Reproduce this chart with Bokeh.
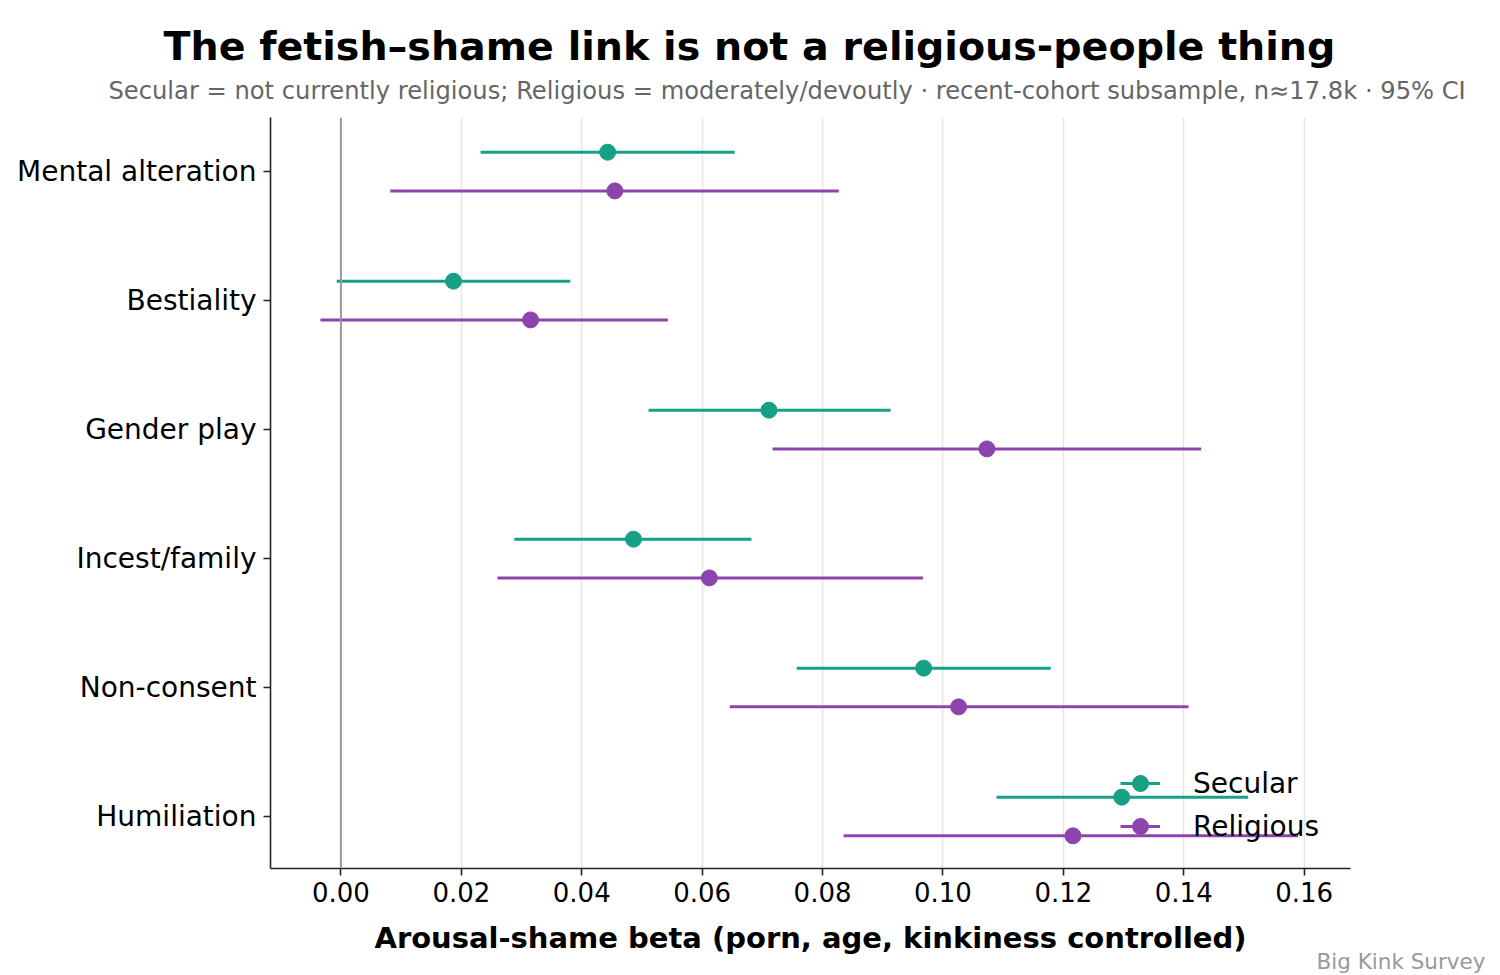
from bokeh.plotting import figure
from bokeh.models import (Range1d, FixedTicker, Legend, LegendItem, Span, Title,
                          ColumnDataSource, NumeralTickFormatter)
from bokeh.embed import file_html
from bokeh.resources import INLINE

# ---- data ----
categories = ["Humiliation", "Non-consent", "Incest/family", "Gender play",
              "Bestiality", "Mental alteration"]  # bottom to top
secular_beta = [0.1297, 0.0968, 0.0486, 0.0711, 0.0187, 0.0443]
secular_lo = [0.1089, 0.0757, 0.0288, 0.0511, -0.0007, 0.0232]
secular_hi = [0.1507, 0.1179, 0.0682, 0.0913, 0.0381, 0.0654]
religious_beta = [0.1216, 0.1026, 0.0612, 0.1073, 0.0315, 0.0455]
religious_lo = [0.0835, 0.0646, 0.0260, 0.0717, -0.0034, 0.0082]
religious_hi = [0.1590, 0.1408, 0.0967, 0.1429, 0.0543, 0.0827]
x_ticks = [0.00, 0.02, 0.04, 0.06, 0.08, 0.10, 0.12, 0.14, 0.16]

title_text = "The fetish\u2013shame link is not a religious-people thing"
subtitle_text = ("Secular = not currently religious; Religious = moderately/devoutly \u00b7 "
                 "recent-cohort subsample, n\u224817.8k \u00b7 95% CI")
source_text = "Big Kink Survey"
x_label = "Arousal-shame beta (porn, age, kinkiness controlled)"

TEAL = "#16a085"
PURPLE = "#8e44ad"
FONT = "DejaVu Sans"

pos = list(range(len(categories)))
off = 0.15

p = figure(width=1500, height=975, output_backend="svg", toolbar_location=None,
           x_range=Range1d(-0.0117, 0.1677), y_range=Range1d(-0.403, 5.419),
           min_border_left=270, min_border_right=150, min_border_top=117,
           min_border_bottom=107)
p.outline_line_color = None
p.background_fill_color = "white"
p.border_fill_color = "white"

# grid
p.ygrid.visible = False
p.xgrid.ticker = FixedTicker(ticks=x_ticks)
p.xgrid.grid_line_color = "#e6e6e6"
p.xgrid.grid_line_width = 1.5

# zero line
p.add_layout(Span(location=0, dimension="height", line_color="#999999", line_width=2))

src_s = ColumnDataSource(dict(y=[v + off for v in pos], b=secular_beta,
                              lo=secular_lo, hi=secular_hi))
src_r = ColumnDataSource(dict(y=[v - off for v in pos], b=religious_beta,
                              lo=religious_lo, hi=religious_hi))

seg_s = p.segment(x0="lo", x1="hi", y0="y", y1="y", source=src_s,
                  line_color=TEAL, line_width=3)
dot_s = p.scatter(x="b", y="y", source=src_s, size=16, fill_color=TEAL,
                  line_color=TEAL)
seg_r = p.segment(x0="lo", x1="hi", y0="y", y1="y", source=src_r,
                  line_color=PURPLE, line_width=3)
dot_r = p.scatter(x="b", y="y", source=src_r, size=16, fill_color=PURPLE,
                  line_color=PURPLE)

# axes
xa = p.xaxis[0]
xa.ticker = FixedTicker(ticks=x_ticks)
xa.formatter = NumeralTickFormatter(format="0.00")
xa.axis_label = x_label
xa.axis_label_text_font = FONT
xa.axis_label_text_font_style = "bold"
xa.axis_label_text_font_size = "29px"
xa.axis_label_text_color = "black"
xa.axis_label_standoff = 16
xa.major_label_text_font = FONT
xa.major_label_text_font_size = "26px"
xa.major_label_text_color = "black"
xa.major_label_standoff = 6
xa.major_tick_out = 7
xa.major_tick_in = 0
xa.minor_tick_out = 0
xa.minor_tick_in = 0
xa.axis_line_width = 1.6
xa.axis_line_color = "#222222"
xa.major_tick_line_color = "#222222"
xa.major_tick_line_width = 1.6

ya = p.yaxis[0]
ya.ticker = FixedTicker(ticks=pos)
ya.major_label_overrides = {i: c for i, c in zip(pos, categories)}
ya.major_label_text_font = FONT
ya.major_label_text_font_size = "28px"
ya.major_label_text_color = "black"
ya.major_label_standoff = 7
ya.major_tick_out = 7
ya.major_tick_in = 0
ya.minor_tick_out = 0
ya.minor_tick_in = 0
ya.axis_line_width = 1.6
ya.axis_line_color = "#222222"
ya.major_tick_line_color = "#222222"
ya.major_tick_line_width = 1.6

# legend
legend = Legend(items=[LegendItem(label="Secular", renderers=[seg_s, dot_s]),
                       LegendItem(label="Religious", renderers=[seg_r, dot_r])],
                location=(850, 22), orientation="vertical",
                background_fill_alpha=0, border_line_color=None,
                label_text_font=FONT, label_text_font_size="28px",
                label_text_color="black",
                glyph_width=40, glyph_height=40, label_standoff=33,
                spacing=3, padding=10, margin=0, label_height=40)
p.add_layout(legend)

# titles: subtitle first (nearest the frame), then main title above it
p.add_layout(Title(text=subtitle_text, text_font=FONT, text_font_size="24.2px",
                   text_font_style="normal", text_color="#666666",
                   align="left", offset=-162, standoff=26), "above")
p.add_layout(Title(text=title_text, text_font=FONT, text_font_size="39.6px",
                   text_font_style="bold", text_color="black",
                   align="left", offset=-107, standoff=-14), "above")
# source note below the axis
p.add_layout(Title(text=source_text, text_font=FONT, text_font_size="21.5px",
                   text_font_style="normal", text_color="#999999",
                   align="right", offset=-135, standoff=-20,
                   vertical_align="middle"), "below")

open("out.html", "w").write(file_html(p, INLINE))
